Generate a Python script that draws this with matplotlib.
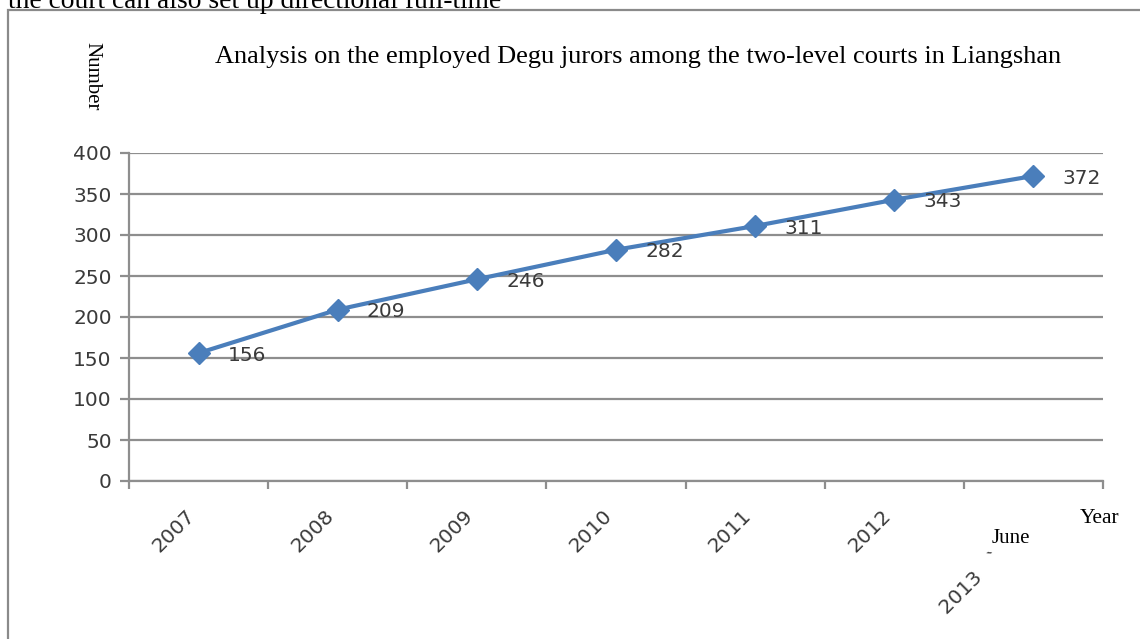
import matplotlib; matplotlib.use("Agg")
import matplotlib.pyplot as plt
from matplotlib.patches import Rectangle

years = ["2007", "2008", "2009", "2010", "2011", "2012", "2013"]
jurors = [156, 209, 246, 282, 311, 343, 372]
y_ticks = [0, 50, 100, 150, 200, 250, 300, 350, 400]

W, H = 1140, 639
def fx(px): return px / W
def fy(py): return 1 - py / H

BLUE = "#4a7ebb"; GRID = "#8e8e8e"; TXT = "#3a3a3a"
SERIF = "Liberation Serif"; SANS = "DejaVu Sans"
FS = 14.5

fig = plt.figure(figsize=(W / 100, H / 100), dpi=100)

# page text cut off above the frame + frame around the chart
fig.text(fx(8), fy(8), "the court can also set up directional full-time",
         family=SERIF, fontsize=19.8, va="baseline", ha="left")
fig.patches.append(Rectangle((fx(8), fy(700)), fx(1200), fy(10) - fy(700),
                             transform=fig.transFigure, fill=False,
                             ec="#8a8a8a", lw=1.6))

ax = fig.add_axes([fx(129), fy(481), fx(1103) - fx(129), fy(153) - fy(481)])
x = list(range(len(years)))
ax.plot(x, jurors, color=BLUE, lw=3, marker="D", ms=11, mec=BLUE, mfc=BLUE,
        zorder=3, clip_on=False)
for xi, v in zip(x, jurors):
    ax.annotate(str(v), (xi, v), xytext=(21, -1.5), textcoords="offset points",
                ha="left", va="center", fontsize=FS, family=SANS, color=TXT)

ax.set_xlim(-0.5, len(years) - 0.5)
ax.set_ylim(0, 400)
ax.set_yticks(y_ticks)
ax.set_yticklabels([str(t) for t in y_ticks], fontsize=FS, family=SANS, color=TXT)
ax.yaxis.grid(True, color=GRID, lw=1.6)
ax.set_axisbelow(True)

# category boundaries carry the tick marks, labels sit between them
ax.set_xticks([i - 0.5 for i in range(len(years) + 1)])
ax.set_xticklabels([])
ax.set_xticks(x, minor=True)
ax.set_xticklabels(years[:-1] + [""], minor=True, rotation=45, ha="right",
                   va="top", fontsize=FS, family=SANS, color=TXT)
ax.tick_params(axis="x", which="major", length=6, width=1.6, color=GRID)
ax.tick_params(axis="x", which="minor", length=0, pad=18)
ax.tick_params(axis="y", length=6.5, width=1.6, color=GRID, pad=6)
ax.annotate("2013   `", (x[-1], 0), xycoords=("data", "axes fraction"),
            xytext=(-19, -48), textcoords="offset points", rotation=45,
            ha="right", va="top", fontsize=FS, family=SANS, color=TXT)

for s in ("top", "right"):
    ax.spines[s].set_visible(False)
for s in ("left", "bottom"):
    ax.spines[s].set_color(GRID); ax.spines[s].set_linewidth(1.6)

fig.text(fx(215), fy(63), "Analysis on the employed Degu jurors among the two-level courts in Liangshan",
         family=SERIF, fontsize=19, va="baseline", ha="left")
fig.text(fx(92), fy(42), "Number", family=SERIF, fontsize=15, rotation=-90,
         ha="center", va="top")
fig.text(fx(992), fy(543), "June", family=SERIF, fontsize=15, va="baseline", ha="left")
fig.text(fx(1080), fy(523), "Year", family=SERIF, fontsize=15.5, va="baseline", ha="left")

fig.savefig("out.png", dpi=100)
